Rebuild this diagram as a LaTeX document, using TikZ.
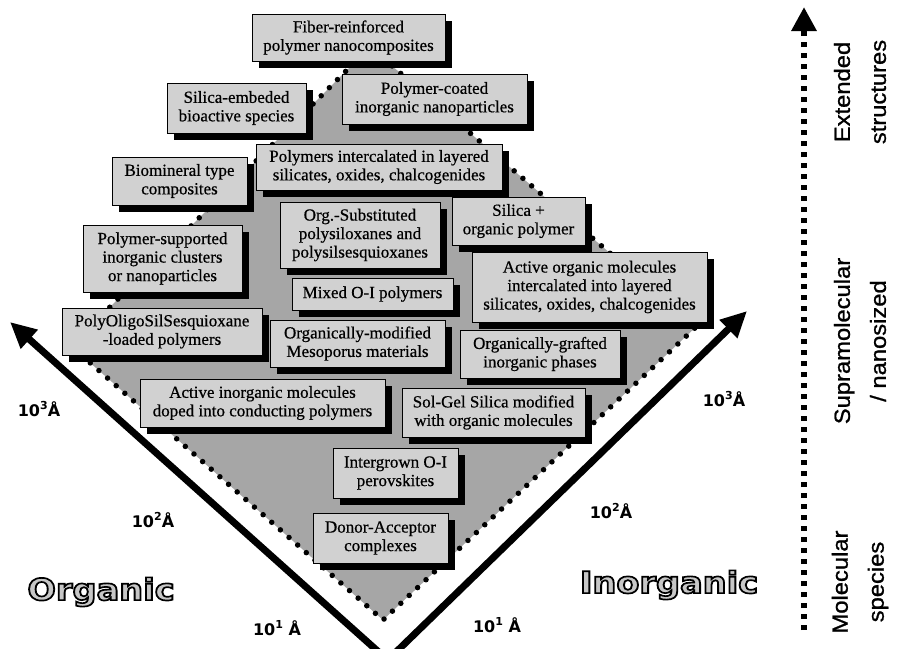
\documentclass[tikz,border=0pt]{standalone}
\usepackage{fontspec}
\setmainfont{Liberation Serif}
\setsansfont{Liberation Sans}
\newfontfamily\boxfont{Liberation Serif}[FakeBold=0.6]
\newfontfamily\sidefont{Liberation Sans}[FakeBold=1]
\newfontfamily\lblfont{DejaVu Sans}
\newfontfamily\outfont{DejaVu Sans Bold}[FakeBold=5.5]
\newcommand{\pw}[1]{\raisebox{0.42em}{\fontsize{11}{11}\selectfont#1}}
\newcommand{\outlined}[1]{\special{pdf:code 0 G}#1}
\usetikzlibrary{arrows.meta,shadows}

\begin{document}
\begin{tikzpicture}[x=1pt,y=-1pt,line join=miter,
    box/.style={draw=black,line width=0.6pt,fill=black!18,align=center,inner sep=2pt,
      font=\boxfont\fontsize{17}{18.5}\selectfont,
      drop shadow={shadow xshift=7pt,shadow yshift=-7pt,fill=black,opacity=1}},
    axis/.style={line width=7pt,-{Triangle[length=26pt,width=24pt]}},
    lbl/.style={font=\lblfont\bfseries\fontsize{16}{16}\selectfont},
    bigword/.style={font=\outfont\fontsize{30}{30}\selectfont,text=black!22,xscale=1.12},
    sidetext/.style={font=\sidefont\fontsize{22}{36}\selectfont,align=center,rotate=90,xscale=1.08}]

  \useasboundingbox (0,0) rectangle (897,648);
  \clip (0,0) rectangle (897,648);

  % the diamond of hybrid materials
  \coordinate (top) at (370,47);
  \coordinate (left) at (71,346);
  \coordinate (bottom) at (383,620);
  \coordinate (right) at (696,327);
  \fill[black!35] (top) -- (left) -- (bottom) -- (right) -- cycle;
  \draw[line width=5.5pt,line cap=round,dash pattern=on 0pt off 11.5pt]
    (top) -- (left) -- (bottom) -- (right) -- cycle;

  % size axes
  \coordinate (orgstart) at (382,655);
  \coordinate (orgend) at (10,322);
  \coordinate (inostart) at (393,655);
  \coordinate (inoend) at (747,311);
  \draw[axis] (orgstart) -- (orgend);
  \draw[axis] (inostart) -- (inoend);

  \node[lbl] (o3) at (39,409) {10\pw{3}Å};
  \node[lbl] (o2) at (153,520) {10\pw{2}Å};
  \node[lbl] (o1) at (277,628) {10\pw{1} Å};
  \node[lbl] (i3) at (724,399) {10\pw{3}Å};
  \node[lbl] (i2) at (611,511) {10\pw{2}Å};
  \node[lbl] (i1) at (497,625) {10\pw{1} Å};

  \node[bigword] (organic) at (101,592) {\outlined{Organic}};
  \node[bigword] (inorganic) at (669,585) {\outlined{Inorganic}};

  % material classes
  \node[box,minimum width=193,minimum height=47] (fiber) at (348.5,37.5) {Fiber-reinforced\\polymer nanocomposites};
  \node[box,minimum width=139,minimum height=50] (bioactive) at (236.5,108) {Silica-embeded\\bioactive species};
  \node[box,minimum width=185,minimum height=50] (coated) at (434.5,99) {Polymer-coated\\inorganic nanoparticles};
  \node[box,minimum width=246,minimum height=46] (intercal) at (379,167) {Polymers intercalated in layered\\silicates, oxides, chalcogenides};
  \node[box,minimum width=135,minimum height=48] (biomin) at (179.5,181) {Biomineral type\\composites};
  \node[box,minimum width=159,minimum height=67] (supported) at (162.5,258.5) {Polymer-supported\\inorganic clusters\\or nanoparticles};
  \node[box,minimum width=200,minimum height=47] (poss) at (162,331.5) {PolyOligoSilSesquioxane\\-loaded polymers};
  \node[box,minimum width=160,minimum height=66] (orgsub) at (360,235) {Org.-Substituted\\polysiloxanes and\\polysilsesquioxanes};
  \node[box,minimum width=161,minimum height=32] (mixed) at (372.5,294) {Mixed O-I polymers};
  \node[box,minimum width=133,minimum height=48] (silpoly) at (518.5,221) {Silica +\\organic polymer};
  \node[box,minimum width=235,minimum height=70] (activeorg) at (589.5,287) {Active organic molecules\\intercalated into layered\\silicates, oxides, chalcogenides};
  \node[box,minimum width=175,minimum height=47] (mesopor) at (357.5,343.5) {Organically-modified\\Mesoporus materials};
  \node[box,minimum width=160,minimum height=48] (grafted) at (540,354) {Organically-grafted\\inorganic phases};
  \node[box,minimum width=245,minimum height=48] (activeinorg) at (262.5,403) {Active inorganic molecules\\doped into conducting polymers};
  \node[box,minimum width=183,minimum height=49] (solgel) at (493.5,412.5) {Sol-Gel Silica modified\\with organic molecules};
  \node[box,minimum width=125,minimum height=50] (intergrown) at (395.5,473) {Intergrown O-I\\perovskites};
  \node[box,minimum width=135,minimum height=50] (donor) at (380.5,538) {Donor-Acceptor\\complexes};

  % structural scale
  \coordinate (scalebot) at (804,630);
  \coordinate (scaletop) at (804,7);
  \draw[line width=6pt,dash pattern=on 5pt off 6pt,-{Triangle[length=24pt,width=24pt]}] (scalebot) -- (scaletop);
  \node[sidetext] (extended) at (860,92) {Extended\\structures};
  \node[sidetext] (supra) at (860,341) {Supramolecular\\/ nanosized};
  \node[sidetext] (molec) at (860,582) {Molecular\\species};

\end{tikzpicture}
\end{document}
